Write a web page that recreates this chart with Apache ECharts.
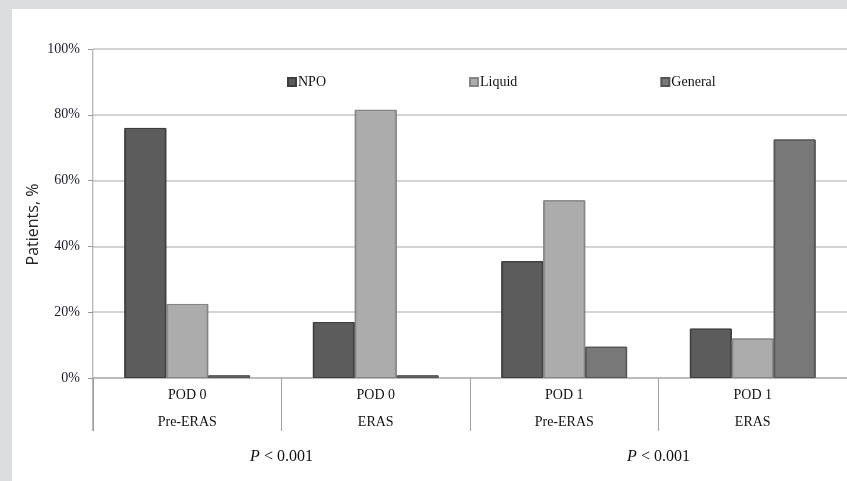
<!DOCTYPE html>
<html>
<head>
<meta charset="utf-8">
<script src="https://cdn.jsdelivr.net/npm/echarts@6/dist/echarts.min.js"></script>
<style>
html,body{margin:0;padding:0;background:#dcdddf;}
#wrap{position:absolute;left:12px;top:9px;width:835px;height:472px;background:#fff;}
#chart{position:absolute;left:0;top:0;width:847px;height:481px;}
</style>
</head>
<body>
<div id="wrap"></div>
<div id="chart"></div>
<script>
var categories = ['POD 0\nPre-ERAS', 'POD 0\nERAS', 'POD 1\nPre-ERAS', 'POD 1\nERAS'];
var seriesNames = ['NPO', 'Liquid', 'General'];
var npo = [76, 17, 35.5, 15];
var liquid = [22.5, 81.5, 54, 12];
var general = [0.8, 0.8, 9.5, 72.5];
var pLabels = ['P < 0.001', 'P < 0.001'];
var yTicks = [0, 20, 40, 60, 80, 100];

function bevel(c, edge) {
  return new echarts.graphic.LinearGradient(0, 0, 1, 0, [
    {offset: 0, color: edge}, {offset: 0.06, color: c},
    {offset: 0.94, color: c}, {offset: 1, color: edge}
  ]);
}
var colors = [['#5c5c5c', '#3e3e3e'], ['#acacac', '#858585'], ['#787878', '#555555']];
var dataSets = [npo, liquid, general];

var chart = echarts.init(document.getElementById('chart'), null, {renderer: 'canvas'});
var serif = '"Liberation Serif", "DejaVu Serif", serif';
var option = {
  backgroundColor: 'transparent',
  animation: false,
  legend: {
    top: 70, left: 282,
    itemWidth: 8, itemHeight: 8, itemGap: 143,
    icon: 'rect',
    textStyle: {fontFamily: serif, fontSize: 14, color: '#111', padding: [0, 0, 0, -3]},
    data: seriesNames
  },
  grid: {left: 93, top: 49, width: 756, height: 329},
  xAxis: [{
    type: 'category',
    data: categories,
    axisLine: {lineStyle: {color: '#b5b5b5', width: 1.5}},
    axisTick: {show: true, length: 53, lineStyle: {color: '#a0a0a0'}},
    axisLabel: {fontFamily: serif, fontSize: 14, color: '#111', lineHeight: 27, margin: 4}
  }, {
    type: 'category',
    data: pLabels,
    position: 'bottom',
    offset: 63,
    axisLine: {show: false},
    axisTick: {show: false},
    axisLabel: {
      fontFamily: serif, fontSize: 16, color: '#111',
      formatter: function (v) { return '{i|P} < 0.001'; },
      rich: {i: {fontStyle: 'italic', fontFamily: serif, fontSize: 16, color: '#111'}}
    }
  }],
  yAxis: {
    type: 'value', min: 0, max: 100, interval: 20,
    name: 'Patients, %', nameLocation: 'middle', nameGap: 52, nameMoveOverlap: false,
    nameTextStyle: {fontFamily: '"Open Sans", "Liberation Sans", sans-serif', fontSize: 16, color: '#222',
      padding: [0, 22, 0, 0]},
    axisLine: {show: false},
    axisTick: {show: true, length: 5, lineStyle: {color: '#999'}},
    splitLine: {lineStyle: {color: '#c4c4c4', width: 1.5}},
    axisLabel: {fontFamily: serif, fontSize: 14, color: '#1a1a2a', margin: 13,
      formatter: function (v) { return yTicks.indexOf(v) >= 0 ? v + '%' : ''; }}
  },
  series: seriesNames.map(function (n, i) {
    return {
      name: n, type: 'bar', xAxisIndex: 0,
      data: dataSets[i],
      barGap: '0%', barCategoryGap: '33.3%',
      itemStyle: {color: bevel(colors[i][0], colors[i][1]), borderColor: colors[i][1], borderWidth: 1},
      emphasis: {disabled: true}
    };
  })
};
chart.setOption(option);
</script>
<script>
// y-axis line extending below the plot to the separator tick depth
(function(){
  var top = chart.convertToPixel({yAxisIndex: 0}, 100);
  var bottom = chart.convertToPixel({yAxisIndex: 0}, 0);
  var x = chart.convertToPixel({xAxisIndex: 0}, 0) - 189 / 2;
  chart.setOption({graphic: [{type: 'line', shape: {x1: x, y1: top, x2: x, y2: bottom + 53},
    style: {stroke: '#a0a0a0', lineWidth: 1}, z: 5}]});
})();
</script>
</body>
</html>
